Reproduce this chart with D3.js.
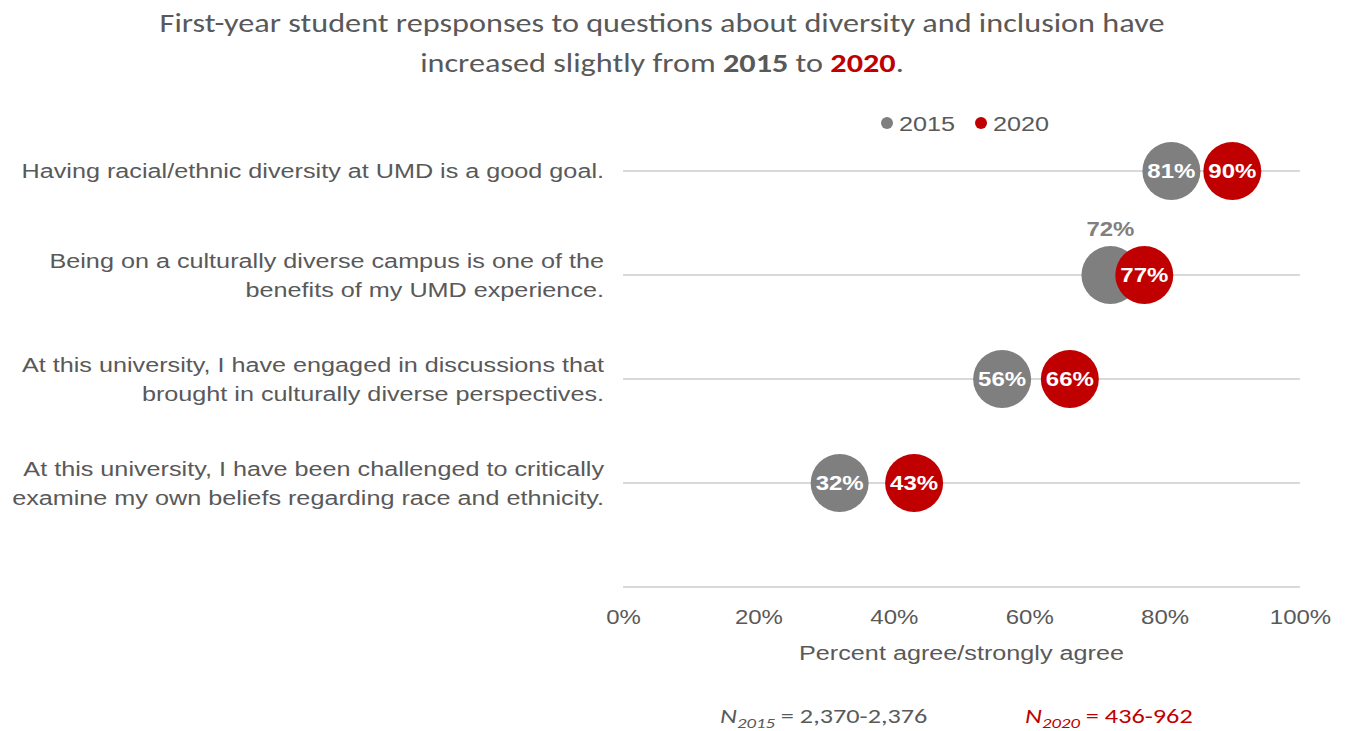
<!DOCTYPE html>
<html>
<head>
<meta charset="utf-8">
<script src="https://cdn.jsdelivr.net/npm/d3@7"></script>
<style>
  body { margin: 0; background: #fff; }
  svg text { fill: #595959; }
</style>
</head>
<body>
<script>
var questions = [
  ['Having racial/ethnic diversity at UMD is a good goal.'],
  ['Being on a culturally diverse campus is one of the', 'benefits of my UMD experience.'],
  ['At this university, I have engaged in discussions that', 'brought in culturally diverse perspectives.'],
  ['At this university, I have been challenged to critically', 'examine my own beliefs regarding race and ethnicity.']
]
var years = ['2015', '2020']
var values2015 = [81, 72, 56, 32]
var values2020 = [90, 77, 66, 43]
var xTicks = [0, 20, 40, 60, 80, 100]
var colors = {'2015': '#7f7f7f', '2020': '#c00000'}

var W = 1348, H = 731
var svg = d3.select('body').append('svg').attr('width', W).attr('height', H)

var x = d3.scaleLinear().domain([0, 100]).range([623, 1300])
// 5 slots: four questions plus the empty row the axis sits on
var y = d3.scalePoint().domain(d3.range(5)).range([171, 587])

var labelFont = '"Liberation Sans", Arial, sans-serif'
var titleFont = 'Carlito, Lato, "Open Sans", sans-serif'
var SX = 1.2  // the original text is a little wide

// text placed at (tx,ty) and stretched horizontally
function wideText(parent, tx, ty, sx){
  return parent.append('text').attr('x', 0).attr('y', 0)
    .attr('transform', 'translate(' + tx + ',' + ty + ') scale(' + (sx || SX) + ',1)')
}

// title
var t1 = wideText(svg, 662, 32, 1.24)
  .attr('text-anchor', 'middle')
  .style('font-family', titleFont).style('font-size', '26px')
  .text('First-year student repsponses to questions about diversity and inclusion have')
var t2 = wideText(svg, 662, 72, 1.24)
  .attr('text-anchor', 'middle')
  .style('font-family', titleFont).style('font-size', '26px')
t2.append('tspan').text('increased slightly from ')
t2.append('tspan').style('font-weight', 'bold').text('2015')
t2.append('tspan').text(' to ')
t2.append('tspan').style('font-weight', 'bold').style('fill', colors['2020']).text('2020')
t2.append('tspan').text('.')

// gridlines
svg.selectAll('line.grid').data(d3.range(5)).join('line')
  .attr('class', 'grid')
  .attr('x1', x(0)).attr('x2', x(100))
  .attr('y1', function(d){ return y(d) }).attr('y2', function(d){ return y(d) })
  .attr('stroke', '#d9d9d9').attr('stroke-width', 2)

// x axis ticks
var xAxis = d3.axisBottom(x).tickValues(xTicks).tickSize(0).tickPadding(0)
  .tickFormat(function(d){ return d + '%' })
var gx = svg.append('g').attr('transform', 'translate(0,' + 624 + ')').call(xAxis)
gx.select('.domain').remove()
gx.selectAll('text')
  .attr('dy', 0).attr('y', 0)
  .attr('transform', 'scale(' + SX + ',1)')
  .style('font-family', labelFont).style('font-size', '20px').style('fill', '#595959')

wideText(svg, x(50), 660)
  .attr('text-anchor', 'middle')
  .style('font-family', labelFont).style('font-size', '21px')
  .text('Percent agree/strongly agree')

// category labels
questions.forEach(function(lines, i){
  var y0 = y(i) + 7 - (lines.length - 1) * 14
  lines.forEach(function(l, j){
    wideText(svg, 604, y0 + j * 29)
      .attr('text-anchor', 'end')
      .style('font-family', labelFont).style('font-size', '21px')
      .text(l)
  })
})

// dots
var r = 29
var series = [
  {year: '2015', values: values2015},
  {year: '2020', values: values2020}
]
series.forEach(function(s){
  svg.append('g').selectAll('circle').data(s.values).join('circle')
    .attr('cx', function(d){ return x(d) })
    .attr('cy', function(d, i){ return y(i) })
    .attr('r', r)
    .attr('fill', colors[s.year])
})
series.forEach(function(s){
  var g = svg.append('g')
  s.values.forEach(function(d, i){
    // label sits above the gray dot when the red one covers it
    var covered = s.year == '2015' && Math.abs(values2020[i] - d) < 8
    wideText(g, x(d), covered ? y(i) - 39 : y(i) + 7)
      .attr('text-anchor', 'middle')
      .style('font-family', labelFont).style('font-size', '20px').style('font-weight', 'bold')
      .style('fill', covered ? '#808080' : '#fff')
      .text(d + '%')
  })
})

// legend
var legend = svg.append('g').selectAll('g').data(years).join('g')
  .attr('transform', function(d, i){ return 'translate(' + (887 + i * 94) + ',123)' })
legend.append('circle').attr('r', 6).attr('fill', function(d){ return colors[d] })
legend.append('text').attr('x', 0).attr('y', 0)
  .attr('transform', 'translate(12,8) scale(' + SX + ',1)')
  .style('font-family', labelFont).style('font-size', '21px')
  .text(function(d){ return d })

// sample sizes
var notes = [
  {year: '2015', x: 720, range: '2,370-2,376', color: '#595959'},
  {year: '2020', x: 1025, range: '436-962', color: colors['2020']}
]
notes.forEach(function(n){
  var t = wideText(svg, n.x, 723, 1.25)
    .style('font-family', titleFont).style('font-size', '21px').style('fill', n.color)
  t.append('tspan').style('font-style', 'italic').style('fill', n.color).text('N')
  t.append('tspan').attr('dy', 5).style('font-style', 'italic').style('font-size', '15px')
    .style('fill', n.color).text(n.year)
  t.append('tspan').attr('dy', -5).style('fill', n.color).text(' = ' + n.range)
})
</script>
</body>
</html>
